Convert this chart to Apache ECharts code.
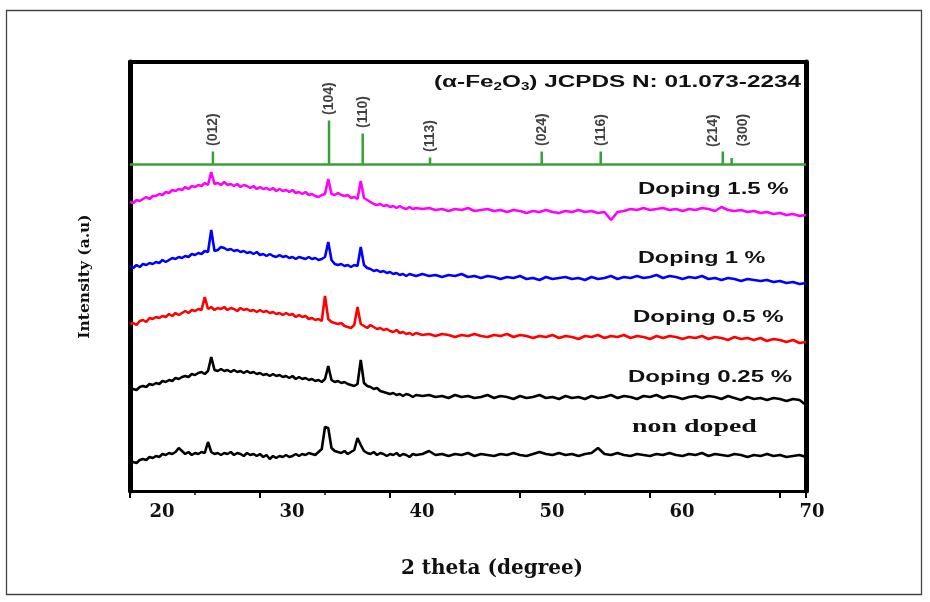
<!DOCTYPE html>
<html>
<head>
<meta charset="utf-8">
<title>XRD alpha-Fe2O3</title>
<script src="https://cdn.jsdelivr.net/npm/echarts@6.0.0/dist/echarts.min.js"></script>
<style>
  html, body { margin: 0; padding: 0; background: #fff; }
  #main { width: 930px; height: 602px; }
</style>
</head>
<body>
<div id="main"></div>
<script>
// 2 theta grid: 0.25 deg steps up to 40, then 0.5 deg steps
const theta = [
  18, 18.25, 18.5, 18.75, 19, 19.25, 19.5, 19.75, 20, 20.25, 20.5, 20.75,
  21, 21.25, 21.5, 21.75, 22, 22.25, 22.5, 22.75, 23, 23.25, 23.5, 23.75,
  24, 24.25, 24.5, 24.75, 25, 25.25, 25.5, 25.75, 26, 26.25, 26.5, 26.75,
  27, 27.25, 27.5, 27.75, 28, 28.25, 28.5, 28.75, 29, 29.25, 29.5, 29.75,
  30, 30.25, 30.5, 30.75, 31, 31.25, 31.5, 31.75, 32, 32.25, 32.5, 32.75,
  33, 33.25, 33.5, 33.75, 34, 34.25, 34.5, 34.75, 35, 35.25, 35.5, 35.75,
  36, 36.25, 36.5, 36.75, 37, 37.25, 37.5, 37.75, 38, 38.25, 38.5, 38.75,
  39, 39.25, 39.5, 39.75, 40,
  40.5, 41, 41.5, 42, 42.5, 43, 43.5, 44, 44.5, 45,
  45.5, 46, 46.5, 47, 47.5, 48, 48.5, 49, 49.5, 50,
  50.5, 51, 51.5, 52, 52.5, 53, 53.5, 54, 54.5, 55,
  55.5, 56, 56.5, 57, 57.5, 58, 58.5, 59, 59.5, 60,
  60.5, 61, 61.5, 62, 62.5, 63, 63.5, 64, 64.5, 65,
  65.5, 66, 66.5, 67, 67.5, 68, 68.5, 69, 69.5, 70
]

// intensities (stacked, arbitrary units)
const doping15 = [
  289, 288, 291, 290, 292, 294, 292, 295, 295, 297, 296, 299,
  298, 301, 300, 302, 301, 304, 302, 305, 304, 306, 305, 308,
  306, 319, 307, 308, 306, 309, 306, 307, 305, 307, 304, 306,
  305, 303, 305, 302, 304, 302, 303, 301, 303, 300, 302, 300,
  301, 299, 301, 298, 299, 297, 299, 296, 297, 295, 294, 296,
  297, 312, 297, 296, 298, 296, 295, 296, 293, 294, 292, 310,
  293, 291, 289, 287, 286, 287, 285, 286, 284, 285, 283, 285,
  283, 282, 284, 282, 283,
  282, 283, 281, 282, 280, 282, 281, 283, 280, 281,
  282, 280, 281, 279, 281, 280, 278, 280, 279, 281,
  279, 278, 280, 279, 281, 279, 280, 278, 279, 271,
  279, 280, 282, 281, 283, 281, 282, 283, 281, 282,
  280, 282, 281, 283, 282, 280, 284, 281, 280, 281,
  279, 280, 278, 279, 277, 278, 276, 277, 275, 276
]
const doping1 = [
  225, 223, 226, 224, 227, 226, 228, 227, 229, 228, 231, 229,
  231, 233, 232, 234, 233, 235, 234, 237, 236, 238, 237, 240,
  239, 261, 240, 241, 244, 243, 241, 242, 240, 241, 239, 240,
  238, 239, 237, 239, 236, 237, 235, 237, 235, 234, 236, 234,
  235, 233, 234, 232, 234, 233, 232, 234, 232, 233, 231, 232,
  234, 249, 231, 227, 226, 227, 225, 226, 224, 226, 225, 244,
  226, 223, 222, 220, 221, 219, 220, 218, 219, 217, 218, 216,
  217, 215, 217, 216, 215,
  217, 215, 216, 214, 216, 215, 217, 214, 215, 213,
  215, 214, 212, 214, 213, 215, 212, 213, 211, 214,
  212, 213, 214, 212, 213, 211, 214, 212, 213, 215,
  212, 214, 213, 215, 213, 214, 216, 213, 215, 214,
  212, 214, 213, 215, 212, 213, 211, 213, 212, 210,
  212, 211, 210, 211, 209, 210, 208, 209, 207, 208
]
const doping05 = [
  167, 168, 166, 170, 171, 169, 173, 172, 174, 173, 175, 174,
  177, 175, 178, 176, 178, 180, 178, 181, 180, 182, 181, 194,
  182, 184, 181, 183, 182, 184, 181, 183, 182, 180, 183, 181,
  182, 180, 181, 179, 181, 179, 180, 178, 179, 177, 178, 176,
  178, 176, 177, 174, 176, 174, 175, 172, 173, 171, 172, 170,
  195, 172, 169, 168, 167, 168, 165, 164, 163, 166, 184, 167,
  165, 163, 166, 164, 162, 163, 161, 162, 160, 159, 161, 158,
  159, 157, 158, 156, 158,
  156, 157, 155, 157, 156, 154, 156, 155, 157, 155,
  154, 156, 155, 157, 154, 156, 155, 153, 155, 154,
  156, 153, 155, 154, 152, 155, 154, 156, 153, 155,
  154, 156, 153, 155, 154, 152, 155, 153, 155, 154,
  152, 154, 153, 155, 152, 154, 153, 151, 154, 152,
  153, 151, 153, 150, 152, 151, 149, 151, 148, 149
]
const doping025 = [
  100, 102, 101, 104, 105, 104, 107, 106, 108, 107, 110, 109,
  111, 110, 113, 112, 114, 115, 114, 117, 116, 118, 119, 117,
  120, 134, 121, 120, 122, 120, 121, 119, 121, 119, 120, 118,
  120, 118, 119, 117, 118, 116, 117, 115, 117, 115, 116, 114,
  115, 113, 115, 112, 114, 112, 113, 111, 112, 110, 111, 109,
  112, 125, 111, 109, 110, 108, 109, 107, 106, 105, 107, 131,
  108, 105, 104, 102, 103, 100, 99, 98, 97, 98, 96, 97,
  95, 97, 96, 94, 96,
  95, 96, 94, 95, 93, 96, 94, 95, 93, 94,
  96, 93, 95, 94, 92, 95, 93, 94, 96, 93,
  94, 92, 95, 93, 94, 92, 95, 93, 94, 96,
  93, 95, 94, 92, 95, 94, 96, 93, 95, 94,
  92, 94, 95, 93, 95, 94, 92, 95, 93, 91,
  94, 92, 93, 91, 93, 92, 90, 92, 91, 86
]
const nonDoped = [
  27, 29, 28, 31, 32, 31, 34, 33, 35, 34, 37, 36,
  38, 37, 39, 43, 40, 37, 39, 36, 38, 37, 39, 38,
  49, 39, 37, 38, 36, 38, 37, 39, 36, 38, 37, 35,
  38, 36, 37, 35, 37, 34, 36, 32, 35, 33, 35, 34,
  36, 34, 35, 37, 35, 37, 36, 38, 37, 36, 39, 42,
  64, 63, 43, 40, 39, 38, 40, 37, 39, 41, 53, 46,
  40, 38, 37, 39, 36, 38, 37, 35, 37, 36, 38, 35,
  37, 36, 34, 37, 36,
  37, 40, 36, 37, 35, 37, 36, 38, 35, 37,
  36, 35, 37, 36, 38, 36, 35, 37, 39, 37,
  36, 38, 36, 37, 35, 37, 38, 43, 37, 36,
  38, 36, 35, 37, 36, 35, 37, 36, 38, 36,
  35, 37, 36, 38, 35, 37, 36, 35, 37, 36,
  34, 36, 35, 37, 35, 36, 34, 35, 36, 34
]

// JCPDS 01.073-2234 reference pattern
const refTheta = [24.38, 33.31, 35.9, 41.08, 49.67, 54.21, 63.6, 64.28]
const refHeight = [13, 44, 31, 7, 13, 13, 13, 6.5]
const refHkl = ['(012)', '(104)', '(110)', '(113)', '(024)', '(116)', '(214)', '(300)']
const refBase = 326.5

const xTicks = [20, 30, 40, 50, 60, 70]

const pairs = (ys) => theta.map((t, i) => [t, ys[i]])

// reference sticks drawn as one polyline along the baseline
const refLine = [[18, refBase]]
refTheta.forEach((t, i) => {
  refLine.push([t, refBase], [t, refBase + refHeight[i]], [t, refBase])
})
refLine.push([70, refBase])

// label offset is taken in the rotated frame: [along text, across text]
const labelOffsets = { '(214)': [-1, -10], '(300)': [6, 12] }

const chart = echarts.init(document.getElementById('main'))

const curve = (name, ys, color) => ({
  name,
  type: 'line',
  data: pairs(ys),
  showSymbol: false,
  lineStyle: { color, width: 2.6 },
  itemStyle: { color },
  z: 3,
})

chart.setOption({
  animation: false,
  backgroundColor: '#fff',
  grid: { left: 130, right: 124, top: 62, bottom: 111 },
  xAxis: [
    {
      type: 'value',
      min: 18,
      max: 70,
      interval: 10,
      name: '2 theta (degree)',
      nameLocation: 'middle',
      nameGap: 68,
      nameTextStyle: {
        fontFamily: 'DejaVu Serif',
        fontWeight: 'bold',
        fontSize: 20,
        color: '#111',
        padding: [0, 0, 0, 48],
      },
      axisLine: { onZero: false, lineStyle: { color: '#000', width: 3 } },
      axisTick: { length: 7, lineStyle: { color: '#000', width: 2 } },
      minorTick: { show: true, splitNumber: 2, length: 4, lineStyle: { color: '#000', width: 1.5 } },
      axisLabel: {
        margin: 12,
        padding: [0, 0, 0, 12],
        fontFamily: 'DejaVu Serif',
        fontWeight: 'bold',
        fontSize: 18,
        color: '#111',
        customValues: xTicks,
      },
      splitLine: { show: false },
    },
    {
      type: 'value',
      position: 'top',
      min: 18,
      max: 70,
      axisLine: { onZero: false, lineStyle: { color: '#000', width: 4 } },
      axisTick: { show: false },
      axisLabel: { show: false },
      splitLine: { show: false },
    },
  ],
  yAxis: [
    {
      type: 'value',
      min: 0,
      max: 429,
      name: 'Intensity (a.u)',
      nameLocation: 'middle',
      nameGap: 37,
      nameTextStyle: {
        fontFamily: 'DejaVu Serif',
        fontWeight: 'bold',
        fontSize: 15.5,
        color: '#111',
      },
      axisLine: { show: true, onZero: false, lineStyle: { color: '#000', width: 5 } },
      axisTick: { show: false },
      axisLabel: { show: false },
      splitLine: { show: false },
    },
    {
      type: 'value',
      position: 'right',
      min: 0,
      max: 429,
      axisLine: { show: true, onZero: false, lineStyle: { color: '#000', width: 5 } },
      axisTick: { show: false },
      axisLabel: { show: false },
      splitLine: { show: false },
    },
  ],
  series: [
    {
      name: 'JCPDS',
      type: 'line',
      data: refLine,
      showSymbol: false,
      lineStyle: { color: '#36a136', width: 2.5 },
      z: 2,
    },
    {
      name: 'hkl',
      type: 'scatter',
      symbolSize: 1,
      itemStyle: { color: 'rgba(0,0,0,0)' },
      data: refTheta.map((t, i) => ({
        value: [t, refBase + refHeight[i]],
        name: refHkl[i],
        label: { offset: labelOffsets[refHkl[i]] || [0, 0] },
      })),
      label: {
        show: true,
        formatter: (p) => p.name,
        position: 'top',
        distance: 5,
        rotate: 90,
        align: 'left',
        verticalAlign: 'middle',
        fontFamily: 'Liberation Sans',
        fontWeight: 'bold',
        fontSize: 14,
        color: '#111',
      },
      z: 4,
    },
    curve('Doping 1.5 %', doping15, '#ff00ff'),
    curve('Doping 1 %', doping1, '#0000ff'),
    curve('Doping 0.5 %', doping05, '#ff0000'),
    curve('Doping 0.25 %', doping025, '#000000'),
    curve('non doped', nonDoped, '#000000'),
  ],
  graphic: [
    {
      type: 'rect',
      shape: { x: 6.5, y: 10.5, width: 915, height: 584 },
      style: { fill: 'none', stroke: '#444', lineWidth: 1.3 },
      silent: true,
    },
    {
      type: 'text',
      x: 434,
      y: 83,
      scaleX: 1.52,
      style: {
        text: '(α-Fe{s|2}O{s|3}) JCPDS N: 01.073-2234',
        fontFamily: 'Liberation Sans',
        fontWeight: 'bold',
        fontSize: 16,
        fill: '#111',
        align: 'left',
        verticalAlign: 'middle',
        rich: {
          s: { fontFamily: 'Liberation Sans', fontWeight: 'bold', fontSize: 10, verticalAlign: 'bottom', padding: [8, 0, 0, 0] },
        },
      },
    },
    { type: 'text', x: 638, y: 190, scaleX: 1.5, style: { text: 'Doping 1.5 %', font: 'bold 16px "Liberation Sans"', fill: '#111', align: 'left', verticalAlign: 'middle' } },
    { type: 'text', x: 638, y: 259, scaleX: 1.46, style: { text: 'Doping 1 %', font: 'bold 16px "Liberation Sans"', fill: '#111', align: 'left', verticalAlign: 'middle' } },
    { type: 'text', x: 633, y: 318, scaleX: 1.5, style: { text: 'Doping 0.5 %', font: 'bold 16px "Liberation Sans"', fill: '#111', align: 'left', verticalAlign: 'middle' } },
    { type: 'text', x: 628, y: 378, scaleX: 1.5, style: { text: 'Doping 0.25 %', font: 'bold 16px "Liberation Sans"', fill: '#111', align: 'left', verticalAlign: 'middle' } },
    { type: 'text', x: 632, y: 427, scaleX: 1.55, style: { text: 'non doped', font: 'bold 18px "Liberation Serif"', fill: '#111', align: 'left', verticalAlign: 'middle' } },
  ],
})
</script>
</body>
</html>
